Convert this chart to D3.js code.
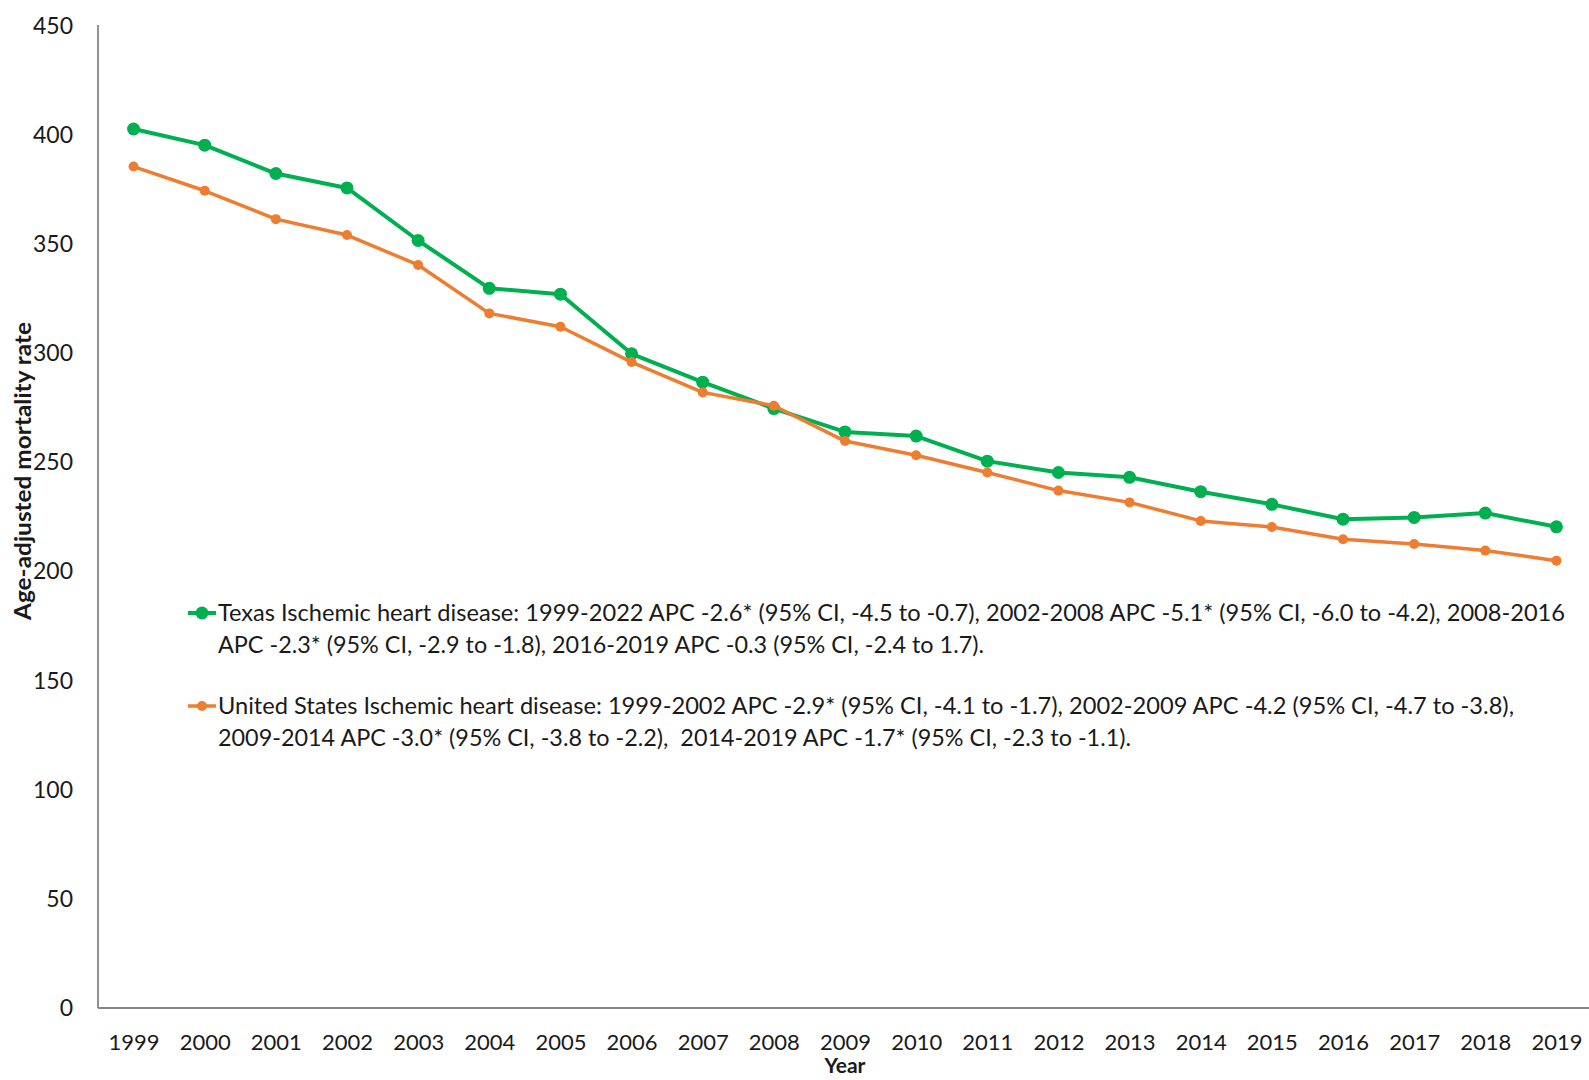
<!DOCTYPE html>
<html><head><meta charset="utf-8">
<script src="https://cdn.jsdelivr.net/npm/d3@7/dist/d3.min.js"></script>
<style>body{margin:0;background:#fff;} svg{display:block;}</style>
</head><body>
<svg id="chart" width="1589" height="1080"></svg>
<script>
const years = ["1999","2000","2001","2002","2003","2004","2005","2006","2007","2008","2009","2010","2011","2012","2013","2014","2015","2016","2017","2018","2019"];
const texas = [402.8,395.4,382.4,375.8,351.7,329.8,327.1,299.8,286.8,274.7,264.0,262.1,250.6,245.4,243.2,236.6,230.8,224.0,224.8,226.8,220.5];
const us = [385.6,374.5,361.5,354.2,340.5,318.3,312.2,296.0,282.1,276.0,259.8,253.3,245.4,237.1,231.7,223.2,220.4,214.8,212.6,209.6,205.0];
const yTicks = [0,50,100,150,200,250,300,350,400,450];
const legendTexas = ["Texas Ischemic heart disease: 1999-2022 APC -2.6* (95% CI, -4.5 to -0.7), 2002-2008 APC -5.1* (95% CI, -6.0 to -4.2), 2008-2016",
                     "APC -2.3* (95% CI, -2.9 to -1.8), 2016-2019 APC -0.3 (95% CI, -2.4 to 1.7)."];
const legendUS = ["United States Ischemic heart disease: 1999-2002 APC -2.9* (95% CI, -4.1 to -1.7), 2002-2009 APC -4.2 (95% CI, -4.7 to -3.8),",
                  "2009-2014 APC -3.0* (95% CI, -3.8 to -2.2),  2014-2019 APC -1.7* (95% CI, -2.3 to -1.1)."];
const yTitle = "Age-adjusted mortality rate";
const xTitle = "Year";

const svg = d3.select("#chart");
const FONT = "Lato, 'Open Sans', sans-serif";
const plotLeft = 98, plotRight = 1592, plotTop = 26, plotBottom = 1008;
const x = d3.scalePoint().domain(years).range([plotLeft, plotRight]).padding(0.5);
const y = d3.scaleLinear().domain([0, 450]).range([plotBottom, plotTop]);

// axes
const yAxis = svg.append("g").attr("transform", `translate(${plotLeft},0)`)
  .call(d3.axisLeft(y).tickValues(yTicks).tickSize(0).tickPadding(25));
yAxis.select(".domain").remove();
yAxis.selectAll("text").attr("font-family", FONT).attr("font-size", 23).attr("fill", "#1a1a1a");

const xAxis = svg.append("g").attr("transform", `translate(0,${plotBottom})`)
  .call(d3.axisBottom(x).tickSize(0).tickPadding(26));
xAxis.select(".domain").remove();
xAxis.selectAll("text").attr("font-family", FONT).attr("font-size", 22).attr("fill", "#1a1a1a");

svg.append("line").attr("x1", plotLeft).attr("x2", plotLeft).attr("y1", 25).attr("y2", plotBottom)
  .attr("stroke", "#868686").attr("stroke-width", 1.8);
svg.append("line").attr("x1", plotLeft).attr("x2", 1589).attr("y1", plotBottom).attr("y2", plotBottom)
  .attr("stroke", "#868686").attr("stroke-width", 1.8);

// titles
svg.append("text").attr("transform", "translate(31,471) rotate(-90)")
  .attr("text-anchor", "middle").attr("font-family", FONT).attr("font-weight", "bold")
  .attr("font-size", 22).attr("fill", "#1a1a1a").attr("textLength", 298).attr("lengthAdjust", "spacingAndGlyphs")
  .text(yTitle);
svg.append("text").attr("x", 845).attr("y", 1073).attr("text-anchor", "middle")
  .attr("font-family", FONT).attr("font-weight", "bold").attr("font-size", 21).attr("fill", "#1a1a1a")
  .text(xTitle);

// series
const line = d3.line().x((d, i) => x(years[i])).y(d => y(d));
const series = [
  {data: texas, color: "#00B050", w: 4, r: 6.5},
  {data: us, color: "#ED7D31", w: 3.5, r: 5}
];
series.forEach(s => {
  svg.append("path").datum(s.data).attr("d", line).attr("fill", "none")
    .attr("stroke", s.color).attr("stroke-width", s.w).attr("stroke-linejoin", "round");
  svg.append("g").selectAll("circle").data(s.data).join("circle")
    .attr("cx", (d, i) => x(years[i])).attr("cy", d => y(d)).attr("r", s.r).attr("fill", s.color);
});

// legend
const legends = [
  {lines: legendTexas, color: "#00B050", w: 4, r: 6.5, y0: 613, widths: [1347, 766]},
  {lines: legendUS, color: "#ED7D31", w: 3.5, r: 5, y0: 706, widths: [1296, 913]}
];
legends.forEach(l => {
  svg.append("line").attr("x1", 188).attr("x2", 216).attr("y1", l.y0).attr("y2", l.y0)
    .attr("stroke", l.color).attr("stroke-width", l.w);
  svg.append("circle").attr("cx", 202).attr("cy", l.y0).attr("r", l.r).attr("fill", l.color);
  l.lines.forEach((t, i) => {
    svg.append("text").attr("x", 218).attr("y", l.y0 + i * 32).attr("dy", "0.35em")
      .attr("font-family", FONT).attr("font-size", 23).attr("fill", "#1a1a1a")
      .attr("textLength", l.widths[i]).attr("lengthAdjust", "spacingAndGlyphs")
      .attr("xml:space", "preserve").style("white-space", "pre")
      .text(t);
  });
});
</script>
</body></html>
